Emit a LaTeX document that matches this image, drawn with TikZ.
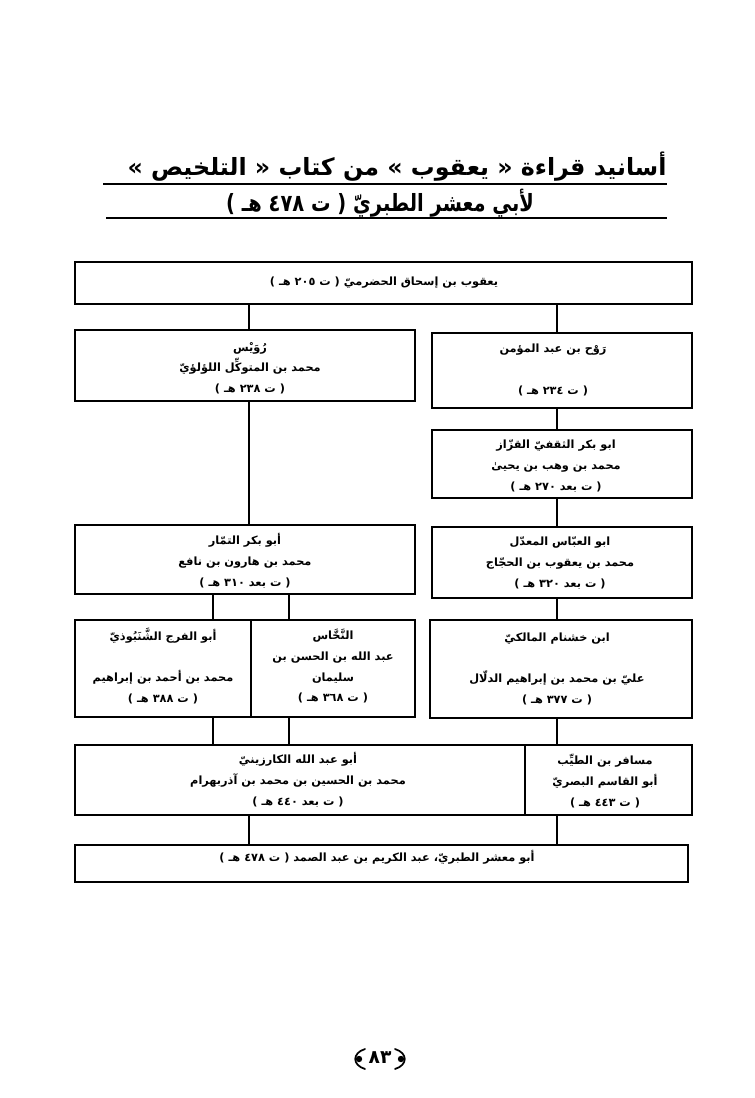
\documentclass[tikz,border=0pt]{standalone}
\usepackage{fontspec}
\TeXXeTstate=1
\newfontfamily\ar[Script=Arabic]{DejaVu Sans}
\usetikzlibrary{fit}
\newcommand\rl[1]{\beginR#1\endR}
\begin{document}
\begin{tikzpicture}[x=0.75pt,y=-0.75pt,
  box/.style={draw, line width=1.1pt, inner sep=0pt},
  conn/.style={line width=0.8pt},
  txt/.style={font=\ar\bfseries\fontsize{8.5}{15.5}\selectfont, align=center, inner sep=0pt},
  ttl/.style={font=\ar\bfseries\fontsize{17.8}{20}\selectfont, inner sep=0pt},
  rule/.style={line width=1pt},
  orn/.style={line width=1.3pt, line cap=round}]
\useasboundingbox[fill=white] (0,0) rectangle (755,1098);

% title
\node[ttl] (t1) at (397,167) {\rl{أسانيد قراءة « يعقوب » من كتاب « التلخيص »}};
\node[ttl] (t2) at (380,203) {\scalebox{0.82}[1]{\rl{لأبي معشر الطبريّ ( ت ٤٧٨ هـ )}}};
\draw[rule] (103,184) -- (667,184);
\draw[rule] (106,218) -- (667,218);

% boxes
\node[box, fit={(75,262) (692,304)}] (top) {};
\node[box, fit={(75,330) (415,401)}] (r2L) {};
\node[box, fit={(432,333) (692,408)}] (r2R) {};
\node[box, fit={(432,430) (692,498)}] (b3) {};
\node[box, fit={(75,525) (415,594)}] (r4L) {};
\node[box, fit={(432,527) (692,598)}] (r4R) {};
\node[box, fit={(75,620) (251,717)}] (r5A) {};
\node[box, fit={(251,620) (415,717)}] (r5B) {};
\node[box, fit={(430,620) (692,718)}] (r5C) {};
\node[box, fit={(75,745) (525,815)}] (r6L) {};
\node[box, fit={(525,745) (692,815)}] (r6R) {};
\node[box, fit={(75,845) (688,882)}] (bot) {};

% texts
\node[txt] (top-t) at (384,283) {\rl{يعقوب بن إسحاق الحضرميّ ( ت ٢٠٥ هـ )}};
\node[txt] (r2L-t) at (250,368) {\rl{رُوَيْس}\\ \rl{محمد بن المتوكِّل اللؤلؤيّ}\\ \rl{( ت ٢٣٨ هـ )}};
\node[txt] (r2R-t) at (553,370) {\rl{رَوْح بن عبد المؤمن}\\[15.5pt] \rl{( ت ٢٣٤ هـ )}};
\node[txt] (b3-t) at (556,466) {\rl{ابو بكر الثقفيّ القزّاز}\\ \rl{محمد بن وهب بن يحيىٰ}\\ \rl{( ت بعد ٢٧٠ هـ )}};
\node[txt] (r4L-t) at (245,561) {\rl{أبو بكر التمّار}\\ \rl{محمد بن هارون بن نافع}\\ \rl{( ت بعد ٣١٠ هـ )}};
\node[txt] (r4R-t) at (560,563) {\rl{ابو العبّاس المعدّل}\\ \rl{محمد بن يعقوب بن الحجّاج}\\ \rl{( ت بعد ٣٢٠ هـ )}};
\node[txt] (r5A-t) at (163,666) {\rl{أبو الفرج الشَّنَبُوذيّ}\\[15.5pt] \rl{محمد بن أحمد بن إبراهيم}\\ \rl{( ت ٣٨٨ هـ )}};
\node[txt] (r5B-t) at (333,666) {\rl{النَّخَّاس}\\ \rl{عبد الله بن الحسن بن}\\ \rl{سليمان}\\ \rl{( ت ٣٦٨ هـ )}};
\node[txt] (r5C-t) at (557,669) {\rl{ابن خشنام المالكيّ}\\[15.5pt] \rl{عليّ بن محمد بن إبراهيم الدلّال}\\ \rl{( ت ٣٧٧ هـ )}};
\node[txt] (r6L-t) at (298,780) {\rl{أبو عبد الله الكارزينيّ}\\ \rl{محمد بن الحسين بن محمد بن آذربهرام}\\ \rl{( ت بعد ٤٤٠ هـ )}};
\node[txt] (r6R-t) at (605,781) {\rl{مسافر بن الطيِّب}\\ \rl{أبو القاسم البصريّ}\\ \rl{( ت ٤٤٣ هـ )}};
\node[txt] (bot-t) at (377,857) {\rl{أبو معشر الطبريّ، عبد الكريم بن عبد الصمد ( ت ٤٧٨ هـ )}};

% page number with ornaments
\node[font=\ar\bfseries\fontsize{14}{16}\selectfont, inner sep=0pt] (page) at (380,1058) {٨٣};
\fill (359,1059) circle (3.2);
\draw[orn] (365,1049) .. controls (352,1053) and (352,1065) .. (365,1069);
\fill (401,1059) circle (3.2);
\draw[orn] (395,1049) .. controls (408,1053) and (408,1065) .. (395,1069);

% connector columns
\coordinate (xa) at (213,0);
\coordinate (xb) at (249,0);
\coordinate (xc) at (289,0);
\coordinate (xd) at (557,0);

\draw[conn] (top.south -| xb) -- (r2L.north -| xb);
\draw[conn] (top.south -| xd) -- (r2R.north -| xd);
\draw[conn] (r2L.south -| xb) -- (r4L.north -| xb);
\draw[conn] (r2R.south -| xd) -- (b3.north -| xd);
\draw[conn] (b3.south -| xd) -- (r4R.north -| xd);
\draw[conn] (r4L.south -| xa) -- (r5A.north -| xa);
\draw[conn] (r4L.south -| xc) -- (r5B.north -| xc);
\draw[conn] (r4R.south -| xd) -- (r5C.north -| xd);
\draw[conn] (r5A.south -| xa) -- (r6L.north -| xa);
\draw[conn] (r5B.south -| xc) -- (r6L.north -| xc);
\draw[conn] (r5C.south -| xd) -- (r6R.north -| xd);
\draw[conn] (r6L.south -| xb) -- (bot.north -| xb);
\draw[conn] (r6R.south -| xd) -- (bot.north -| xd);
\end{tikzpicture}
\end{document}
